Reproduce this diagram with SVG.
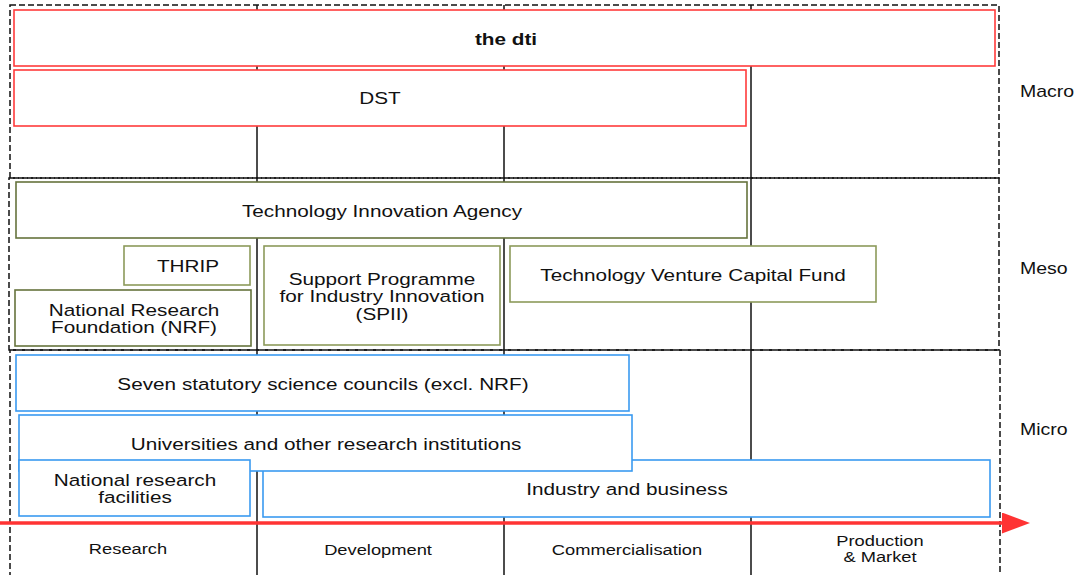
<svg xmlns="http://www.w3.org/2000/svg" width="1079" height="575" viewBox="0 0 1079 575">
<defs>
<style>
.band{fill:none;stroke:#111;stroke-width:1.5;stroke-dasharray:6 3}
.col{stroke:#111;stroke-width:1.5}
.red{fill:#fff;stroke:#ff3b3b;stroke-width:1.6}
.ol{fill:#fff;stroke:#66733d;stroke-width:1.6}
.ol2{fill:#fff;stroke:#8c9a5a;stroke-width:1.6}
.bl{fill:#fff;stroke:#3a9af0;stroke-width:1.6}
text{font-family:"Liberation Sans",Arial,sans-serif;fill:#111;text-anchor:middle}
.t{font-size:17px}
.s{font-size:15px}
.lv{font-size:16px;text-anchor:start}
</style>
<marker id="ah" markerWidth="8" markerHeight="6" refX="0" refY="3" orient="auto" markerUnits="strokeWidth">
<path d="M0,0 L8,3 L0,6 Z" fill="#ff3333"/>
</marker>
</defs>
<g id="grid">
<rect class="band" x="10" y="5" width="989" height="173"/>
<rect class="band" x="9" y="178" width="990" height="172"/>
<rect class="band" x="10" y="350" width="990" height="240"/>
<line class="col" x1="257" y1="5" x2="257" y2="575"/>
<line class="col" x1="504" y1="5" x2="504" y2="575"/>
<line class="col" x1="751" y1="5" x2="751" y2="575"/>
</g>
<g id="n-dti"><rect class="red" x="14" y="10" width="981" height="56"/><text class="t" transform="translate(506,45) scale(1.22,1)" font-weight="bold">the dti</text></g>
<g id="n-dst"><rect class="red" x="14" y="70" width="732" height="56"/><text class="t" transform="translate(380,104) scale(1.22,1)">DST</text></g>
<g id="n-tia"><rect class="ol" x="16" y="182" width="731" height="56"/><text class="t" transform="translate(382,217) scale(1.22,1)">Technology Innovation Agency</text></g>
<g id="n-thrip"><rect class="ol2" x="124" y="246" width="126" height="39"/><text class="t" transform="translate(188,272) scale(1.22,1)">THRIP</text></g>
<g id="n-nrf"><rect class="ol" x="15" y="290" width="236" height="56"/><text class="t" transform="translate(134,316) scale(1.22,1)">National Research</text><text class="t" transform="translate(134,333) scale(1.22,1)">Foundation (NRF)</text></g>
<g id="n-spii"><rect class="ol2" x="264" y="246" width="236" height="99"/><text class="t" transform="translate(382,285) scale(1.22,1)">Support Programme</text><text class="t" transform="translate(382,302) scale(1.22,1)">for Industry Innovation</text><text class="t" transform="translate(382,320) scale(1.22,1)">(SPII)</text></g>
<g id="n-tvcf"><rect class="ol2" x="510" y="246" width="366" height="56"/><text class="t" transform="translate(693,281) scale(1.22,1)">Technology Venture Capital Fund</text></g>
<g id="n-councils"><rect class="bl" x="16" y="355" width="613" height="56"/><text class="t" transform="translate(323,390) scale(1.22,1)">Seven statutory science councils (excl. NRF)</text></g>
<g id="n-industry"><rect class="bl" x="263" y="460" width="727" height="57"/><text class="t" transform="translate(627,495) scale(1.22,1)">Industry and business</text></g>
<g id="n-univ"><rect class="bl" x="19" y="415" width="613" height="56"/><text class="t" transform="translate(326,450) scale(1.22,1)">Universities and other research institutions</text></g>
<g id="n-facilities"><rect class="bl" x="19" y="460" width="231" height="56"/><text class="t" transform="translate(135,486) scale(1.22,1)">National research</text><text class="t" transform="translate(135,503) scale(1.22,1)">facilities</text></g>
<g id="connectors">
<line x1="0" y1="523" x2="1002" y2="523" stroke="#ff3333" stroke-width="3.5" marker-end="url(#ah)"/>
</g>
<g id="labels">
<text class="lv" transform="translate(1020,97) scale(1.22,1)">Macro</text>
<text class="lv" transform="translate(1020,274) scale(1.22,1)">Meso</text>
<text class="lv" transform="translate(1020,435) scale(1.22,1)">Micro</text>
<text class="s" transform="translate(128,554) scale(1.22,1)">Research</text>
<text class="s" transform="translate(378,555) scale(1.22,1)">Development</text>
<text class="s" transform="translate(627,555) scale(1.22,1)">Commercialisation</text>
<text class="s" transform="translate(880,546) scale(1.22,1)">Production</text>
<text class="s" transform="translate(880,562) scale(1.22,1)">&amp; Market</text>
</g>
</svg>
